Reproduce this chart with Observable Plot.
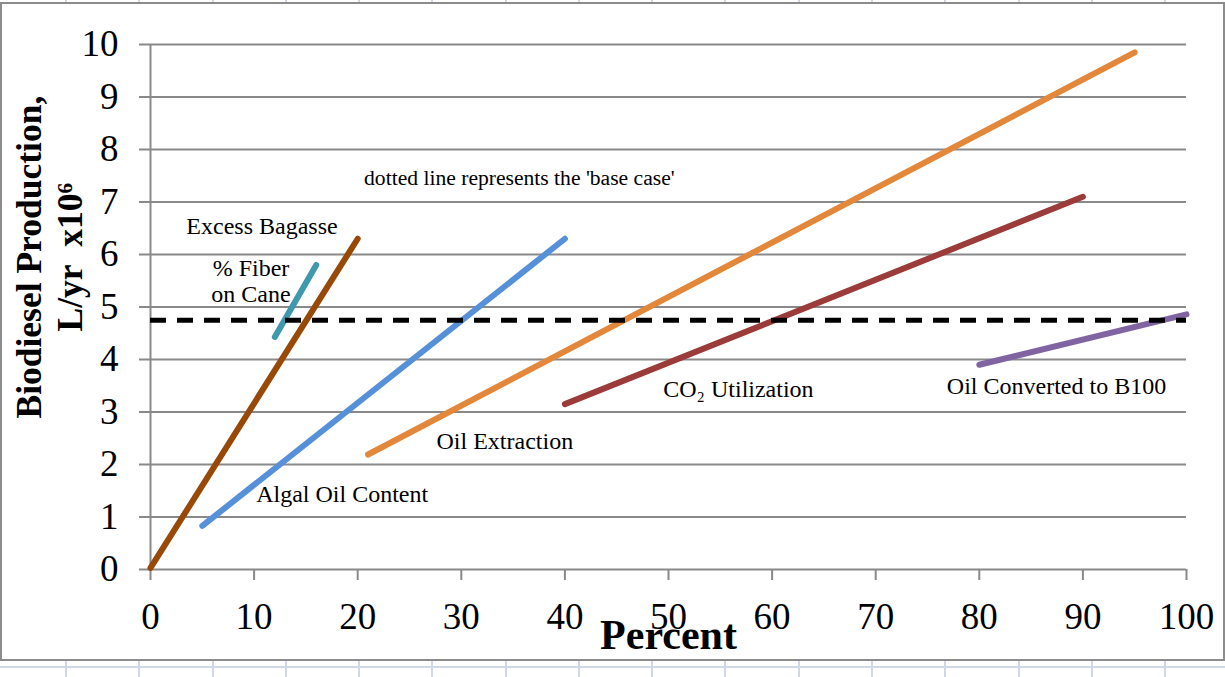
<!DOCTYPE html>
<html><head><meta charset="utf-8">
<script src="https://cdn.jsdelivr.net/npm/d3@7"></script>
<script src="https://cdn.jsdelivr.net/npm/@observablehq/plot@0.6"></script>
<style>
html,body{margin:0;padding:0;}
body{width:1225px;height:677px;position:relative;overflow:hidden;background-color:#fff;
 background-image:
  linear-gradient(to bottom, transparent 666px, #d0d7e5 666px, #d0d7e5 668px, transparent 668px),
  repeating-linear-gradient(to right, transparent 0, transparent 65px, #d0d7e5 65px, #d0d7e5 67px, transparent 67px, transparent 73.27px);}
#frame{position:absolute;left:0;top:2px;width:1221px;height:655px;border:2px solid #8c8c8c;background:#fff;}
#chart{position:absolute;left:0;top:0;}
</style></head>
<body>
<div id="frame"></div>
<div id="chart"></div>
<script>
// ---- data ----
const series = ["Excess Bagasse", "% Fiber on Cane", "Algal Oil Content", "Oil Extraction", "CO2 Utilization", "Oil Converted to B100"];
const colors = ["#984807", "#3e98ae", "#5690d8", "#e3873a", "#9b3b3a", "#8064a2"];
const xStart = [0, 12, 5, 21, 40, 80];
const yStart = [0.03, 4.43, 0.83, 2.19, 3.15, 3.9];
const xEnd = [20, 16, 40, 95, 90, 100];
const yEnd = [6.3, 5.8, 6.3, 9.85, 7.1, 4.86];
const baseCase = 4.75;
const xTicks = [0, 10, 20, 30, 40, 50, 60, 70, 80, 90, 100];
const yTicks = [0, 1, 2, 3, 4, 5, 6, 7, 8, 9, 10];

const labelText = ["Excess Bagasse", "% Fiber\non Cane", "Algal Oil Content", "Oil Extraction", "CO\u2082 Utilization", "Oil Converted to B100"];
const labelX = [10.76, 9.7, 18.5, 34.2, 56.75, 87.45];
const labelY = [6.55, 5.5, 1.45, 2.455, 3.45, 3.5];
const noteText = ["dotted line represents the 'base case'"];
const noteX = [35.6];
const noteY = [7.45];
const yTitle = ["Biodiesel Production,\nL/yr\u00a0 x10\u2076"];
const xTitle = ["Percent"];

// ---- tables built from arrays ----
const points = series.flatMap((s, i) => [
  {series: s, x: xStart[i], y: yStart[i]},
  {series: s, x: xEnd[i], y: yEnd[i]}
]);
const labels = labelText.map((t, i) => ({t, x: labelX[i], y: labelY[i]}));
const notes = noteText.map((t, i) => ({t, x: noteX[i], y: noteY[i]}));

const gray = "#898989";
const chart = Plot.plot({
  width: 1225, height: 677,
  marginLeft: 150, marginRight: 39, marginTop: 44, marginBottom: 108,
  x: {domain: [0, 100]},
  y: {domain: [0, 10]},
  color: {domain: series, range: colors},
  style: {background: "transparent", fontFamily: "'Liberation Serif','Times New Roman',serif", color: "#000", overflow: "visible"},
  marks: [
    Plot.gridY(yTicks, {stroke: gray, strokeOpacity: 1, strokeWidth: 2}),
    Plot.axisY(yTicks, {tickSize: 11, tickPadding: 21, stroke: gray, strokeWidth: 2, fill: "#000", fontSize: 37, tickFormat: d3.format("d"), label: null}),
    Plot.ruleX([0], {stroke: gray, strokeWidth: 2}),
    Plot.axisX(xTicks, {tickSize: 11, tickPadding: 22, stroke: gray, strokeWidth: 2, fill: "#000", fontSize: 37, tickFormat: d3.format("d"), label: null}),
    Plot.line(points, {x: "x", y: "y", z: "series", stroke: "series", strokeWidth: 6, strokeLinecap: "round"}),
    Plot.ruleY([baseCase], {stroke: "#000", strokeWidth: 5, strokeDasharray: "16,11"}),
    Plot.text(labels, {x: "x", y: "y", text: "t", fontSize: 24, lineAnchor: "middle", lineHeight: 1.1, fill: "#000"}),
    Plot.text(notes, {x: "x", y: "y", text: "t", fontSize: 21.6, lineAnchor: "middle", fill: "#000"}),
    Plot.text(yTitle, {x: -9.85, y: 5.95, text: d => d, rotate: -90, fontSize: 35.5, fontWeight: "bold", lineHeight: 1.14, lineAnchor: "middle", fill: "#000", clip: false}),
    Plot.text(xTitle, {x: 50, y: -1.25, text: d => d, fontSize: 42, fontWeight: "bold", lineAnchor: "middle", fill: "#000"})
  ]
});
document.getElementById("chart").appendChild(chart);
</script>
</body></html>
